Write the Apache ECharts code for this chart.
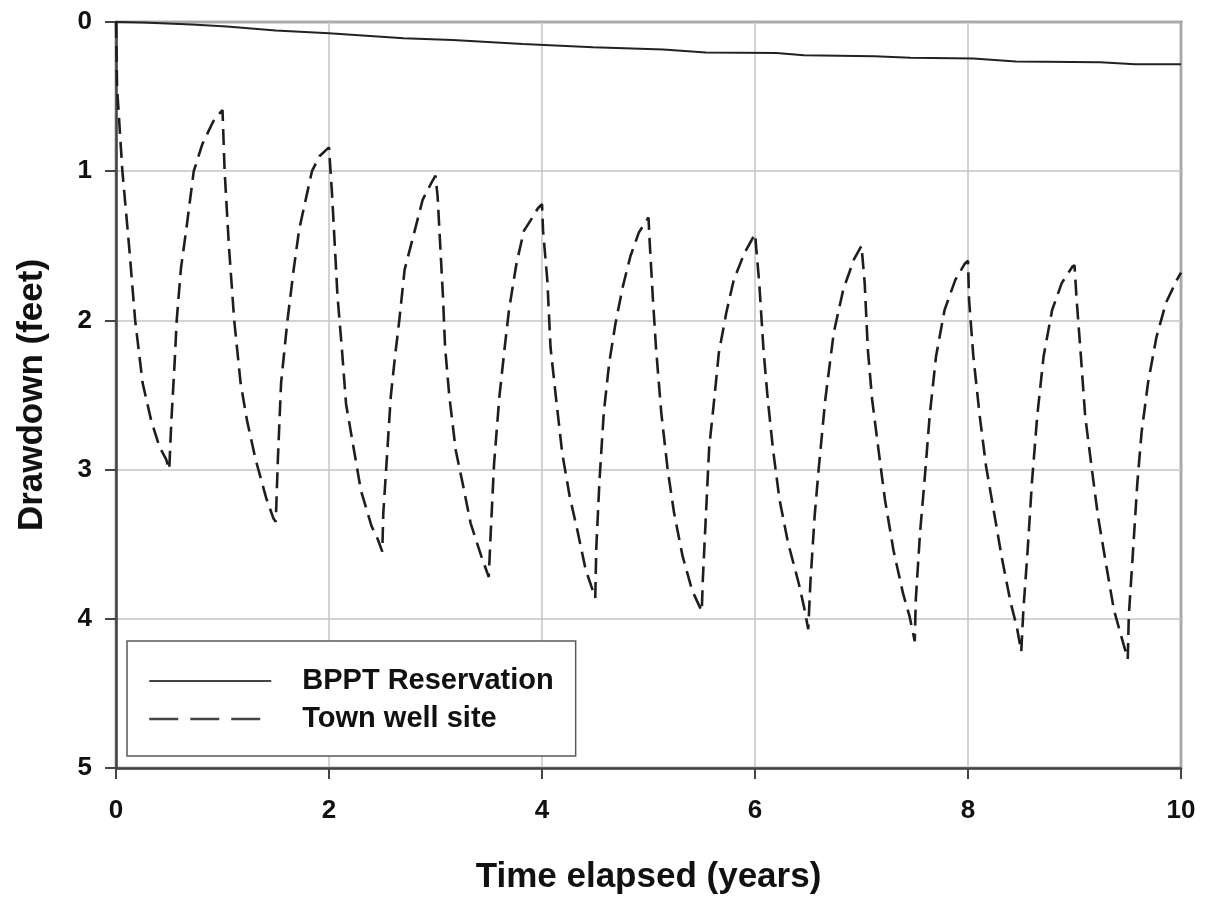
<!DOCTYPE html>
<html>
<head>
<meta charset="utf-8">
<script src="https://cdn.jsdelivr.net/npm/echarts@6/dist/echarts.min.js"></script>
<style>
html,body{margin:0;padding:0;background:#fff;}
#chart{width:1206px;height:900px;}
</style>
</head>
<body>
<div id="chart"></div>
<script>
// ---- data ----
var xTicks = [0, 2, 4, 6, 8, 10];
var yTicks = [0, 1, 2, 3, 4, 5];
var seriesNames = ['BPPT Reservation', 'Town well site'];

var bpptTime = [0, 0.25, 0.71, 1.04, 1.5, 2.0, 2.7, 3.16, 3.82, 4.48, 5.14, 5.54, 6.2, 6.46, 7.12, 7.46, 8.05, 8.45, 9.24, 9.57, 10];
var bpptDrawdown = [0, 0.003, 0.016, 0.03, 0.057, 0.075, 0.109, 0.12, 0.148, 0.17, 0.184, 0.205, 0.207, 0.223, 0.23, 0.239, 0.245, 0.264, 0.27, 0.284, 0.284];

var townTime = [
  0, 0.01, 0.06, 0.125, 0.18, 0.25, 0.33, 0.41, 0.47, 0.5,
  0.52, 0.55, 0.57, 0.61, 0.66, 0.73, 0.81, 0.91, 0.95, 1.0,
  1.02, 1.06, 1.11, 1.17, 1.23, 1.31, 1.41, 1.48, 1.5,
  1.52, 1.55, 1.61, 1.67, 1.72, 1.84, 1.91, 2.0,
  2.03, 2.08, 2.12, 2.16, 2.23, 2.30, 2.40, 2.46, 2.5,
  2.51, 2.54, 2.58, 2.62, 2.66, 2.71, 2.79, 2.88, 2.96, 3.0,
  3.02, 3.07, 3.09, 3.13, 3.19, 3.26, 3.33, 3.43, 3.5,
  3.52, 3.55, 3.60, 3.65, 3.69, 3.76, 3.83, 3.91, 3.96, 4.0,
  4.01, 4.05, 4.08, 4.13, 4.19, 4.26, 4.33, 4.41, 4.5,
  4.51, 4.54, 4.58, 4.63, 4.69, 4.76, 4.83, 4.91, 5.0,
  5.01, 5.04, 5.07, 5.12, 5.18, 5.24, 5.32, 5.41, 5.5,
  5.51, 5.54, 5.57, 5.62, 5.66, 5.73, 5.80, 5.90, 6.0,
  6.04, 6.08, 6.12, 6.17, 6.23, 6.31, 6.41, 6.46, 6.5,
  6.52, 6.56, 6.60, 6.66, 6.74, 6.83, 6.93, 7.0,
  7.03, 7.06, 7.10, 7.16, 7.22, 7.30, 7.39, 7.45, 7.5,
  7.51, 7.55, 7.59, 7.64, 7.70, 7.78, 7.88, 7.97, 8.0,
  8.01, 8.05, 8.11, 8.17, 8.25, 8.32, 8.40, 8.46, 8.5,
  8.52, 8.56, 8.60, 8.65, 8.71, 8.79, 8.88, 8.98, 9.0,
  9.02, 9.06, 9.10, 9.16, 9.22, 9.30, 9.37, 9.44, 9.5,
  9.51, 9.55, 9.59, 9.63, 9.69, 9.77, 9.86, 9.96, 10.0
];
var townDrawdown = [
  0, 0.44, 1.0, 1.52, 2.0, 2.42, 2.67, 2.85, 2.93, 3.0,
  2.67, 2.29, 2.0, 1.65, 1.39, 1.0, 0.82, 0.67, 0.63, 0.59,
  1.0, 1.5, 2.0, 2.42, 2.67, 2.93, 3.19, 3.33, 3.35,
  2.93, 2.42, 2.0, 1.65, 1.39, 1.0, 0.9, 0.84,
  1.17, 1.84, 2.18, 2.56, 2.85, 3.14, 3.38, 3.47, 3.55,
  3.29, 2.96, 2.51, 2.24, 2.0, 1.66, 1.44, 1.19, 1.08, 1.03,
  1.17, 1.84, 2.18, 2.51, 2.87, 3.11, 3.36, 3.58, 3.72,
  3.40, 2.96, 2.51, 2.18, 1.93, 1.62, 1.40, 1.31, 1.25, 1.22,
  1.40, 1.73, 2.18, 2.51, 2.89, 3.18, 3.40, 3.67, 3.86,
  3.52, 3.07, 2.62, 2.29, 2.02, 1.77, 1.57, 1.41, 1.31,
  1.46, 1.84, 2.18, 2.62, 3.0, 3.29, 3.58, 3.81, 3.95,
  3.74, 3.29, 2.85, 2.51, 2.22, 1.95, 1.73, 1.55, 1.42,
  1.75, 2.20, 2.53, 2.87, 3.20, 3.49, 3.76, 3.92, 4.07,
  3.76, 3.31, 2.98, 2.53, 2.08, 1.79, 1.59, 1.50,
  1.75, 2.20, 2.53, 2.87, 3.20, 3.54, 3.83, 3.98, 4.15,
  3.87, 3.42, 3.09, 2.64, 2.24, 1.93, 1.73, 1.62, 1.60,
  1.86, 2.24, 2.64, 2.98, 3.31, 3.60, 3.89, 4.06, 4.22,
  3.94, 3.54, 3.09, 2.64, 2.24, 1.93, 1.75, 1.64, 1.63,
  1.86, 2.24, 2.64, 2.98, 3.31, 3.65, 3.94, 4.12, 4.27,
  3.98, 3.54, 3.09, 2.75, 2.42, 2.11, 1.88, 1.73, 1.68
];

function pairs(xs, ys) {
  var out = [];
  for (var i = 0; i < xs.length; i++) out.push([xs[i], ys[i]]);
  return out;
}

var FONT = 'Liberation Sans, Arial, sans-serif';
var chart = echarts.init(document.getElementById('chart'), null, {renderer: 'canvas'});

chart.setOption({
  animation: false,
  backgroundColor: '#ffffff',
  grid: {
    left: 116, right: 25, top: 22, bottom: 132,
    show: true, borderColor: '#5e5e5e', borderWidth: 2.5, backgroundColor: 'transparent'
  },
  legend: {
    orient: 'vertical',
    left: 127, top: 641,
    padding: [25, 22, 22, 21],
    itemGap: 8,
    itemWidth: 122,
    itemHeight: 14,
    borderColor: '#5a5a5a',
    borderWidth: 1.5,
    backgroundColor: '#ffffff',
    selectedMode: false,
    itemStyle: {opacity: 0, borderWidth: 0},
    textStyle: {
      fontFamily: FONT, fontSize: 29, fontWeight: 'bold', color: '#111',
      lineHeight: 30, padding: [0, 0, 0, 26]
    },
    data: [
      {name: seriesNames[0], itemStyle: {opacity: 0}, lineStyle: {color: '#444', width: 2, type: 'solid', opacity: 1}},
      {name: seriesNames[1], itemStyle: {opacity: 0}, lineStyle: {color: '#444', width: 2.5, type: [29, 12], opacity: 1}}
    ]
  },
  xAxis: {
    type: 'value',
    min: xTicks[0], max: xTicks[xTicks.length - 1], interval: 2,
    name: 'Time elapsed (years)',
    nameLocation: 'middle',
    nameGap: 92,
    nameTextStyle: {fontFamily: FONT, fontSize: 35, fontWeight: 'bold', color: '#111'},
    axisLine: {show: true, onZero: false, lineStyle: {color: '#444', width: 2.5}},
    axisTick: {show: true, inside: false, length: 11, lineStyle: {color: '#444', width: 2}},
    axisLabel: {fontFamily: FONT, fontSize: 26, fontWeight: 'bold', color: '#111', margin: 30},
    splitLine: {show: true, lineStyle: {color: '#c4c4c4', width: 1.5}}
  },
  yAxis: {
    type: 'value',
    inverse: true,
    min: yTicks[0], max: yTicks[yTicks.length - 1], interval: 1,
    name: 'Drawdown (feet)',
    nameLocation: 'middle',
    nameGap: 66,
    nameRotate: 90,
    nameTextStyle: {fontFamily: FONT, fontSize: 35, fontWeight: 'bold', color: '#111'},
    axisLine: {show: true, onZero: false, lineStyle: {color: '#444', width: 2.5}},
    axisTick: {show: true, inside: false, length: 11, lineStyle: {color: '#444', width: 2}},
    axisLabel: {fontFamily: FONT, fontSize: 26, fontWeight: 'bold', color: '#111', margin: 24},
    splitLine: {show: true, lineStyle: {color: '#c4c4c4', width: 1.5}}
  },
  series: [
    {
      name: seriesNames[0],
      type: 'line',
      data: pairs(bpptTime, bpptDrawdown),
      symbol: 'none',
      showSymbol: false,
      lineStyle: {color: '#222', width: 2, type: 'solid'},
      itemStyle: {color: '#444'},
      z: 3
    },
    {
      name: seriesNames[1],
      type: 'line',
      data: pairs(townTime, townDrawdown),
      symbol: 'none',
      showSymbol: false,
      lineStyle: {color: '#1e1e1e', width: 2.6, type: [16, 8]},
      itemStyle: {color: '#444'},
      z: 3
    }
  ]
});
</script>
</body>
</html>
